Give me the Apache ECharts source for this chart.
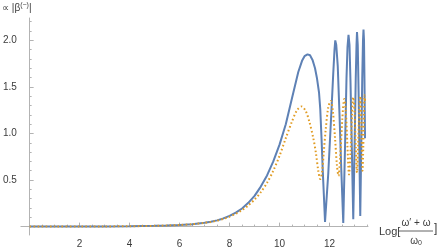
<!DOCTYPE html>
<html>
<head>
<meta charset="utf-8">
<script src="https://cdn.jsdelivr.net/npm/echarts@6/dist/echarts.min.js"></script>
<style>html,body{margin:0;padding:0;background:#fff}#c{width:440px;height:249px}</style>
</head>
<body>
<div id="c"></div>
<script>
// Blue (solid) series: [x, |beta|]
const blueData = [
  [0,0],[1,0.0005],[2,0.001],[3,0.002],[4,0.004],[4.5,0.006],[5,0.008],[5.5,0.012],[6,0.017],[6.5,0.026],[7,0.041],
  [7.25,0.052],[7.5,0.067],[7.75,0.088],[8,0.115],[8.25,0.15],[8.5,0.195],[8.75,0.255],[9,0.33],[9.25,0.43],
  [9.5,0.55],[9.75,0.7],[10,0.88],[10.25,1.1],[10.5,1.38],[10.75,1.66],[10.9,1.78],[11.0,1.83],[11.12,1.85],
  [11.22,1.84],[11.32,1.79],[11.42,1.7],[11.5,1.59],[11.58,1.44],[11.63,1.26],[11.68,0.95],[11.73,0.6],[11.78,0.3],[11.82,0.05],
  [11.95,0.57],[12.08,1.26],[12.15,1.65],[12.2,1.9],[12.23,2.0],[12.27,1.95],[12.33,1.72],[12.4,1.2],[12.47,0.62],[12.55,0.04],
  [12.62,0.85],[12.68,1.6],[12.72,1.93],[12.76,2.06],[12.8,1.95],[12.84,1.55],[12.9,0.75],[12.95,0.08],
  [13.0,0.8],[13.05,1.6],[13.08,1.95],[13.1,2.09],[13.13,1.95],[13.17,1.35],[13.2,0.7],[13.23,0.115],
  [13.27,0.85],[13.31,1.6],[13.34,2.0],[13.36,2.115],[13.38,2.0],[13.4,1.55],[13.42,0.95]
];
// Orange (dotted) series
const orangeData = [
  [0,0],[1,0.0005],[2,0.001],[3,0.002],[4,0.004],[4.5,0.006],[5,0.008],[5.5,0.012],[6,0.017],[6.5,0.026],[7,0.04],
  [7.25,0.05],[7.5,0.064],[7.75,0.083],[8,0.107],[8.25,0.138],[8.5,0.178],[8.75,0.228],[9,0.29],[9.25,0.37],
  [9.5,0.47],[9.75,0.6],[10,0.76],[10.25,0.95],[10.5,1.13],[10.7,1.25],[10.88,1.29],[11.05,1.24],[11.2,1.12],
  [11.35,0.95],[11.45,0.8],[11.55,0.6],[11.63,0.51],
  [11.7,0.58],[11.77,0.8],[11.85,1.05],[11.95,1.28],[12.05,1.35],[12.13,1.25],[12.22,0.95],[12.3,0.65],[12.36,0.545],
  [12.43,0.75],[12.51,1.15],[12.59,1.37],[12.65,1.25],[12.72,0.85],[12.78,0.56],[12.84,0.8],[12.9,1.2],[12.95,1.39],
  [13.0,1.25],[13.05,0.85],[13.1,0.58],[13.15,0.9],[13.19,1.25],[13.23,1.40],[13.27,1.15],[13.3,0.75],[13.32,0.6],
  [13.35,0.85],[13.38,1.2],[13.4,1.41],[13.42,1.35]
];
const xMajorTicks = [2,4,6,8,10,12];
const xMinorTicks = [0.5,1,1.5,2.5,3,3.5,4.5,5,5.5,6.5,7,7.5,8.5,9,9.5,10.5,11,11.5,12.5,13,13.5];
const yMajorTicks = [0.5,1.0,1.5,2.0];
const yMinorTicks = [0.1,0.2,0.3,0.4,0.6,0.7,0.8,0.9,1.1,1.2,1.3,1.4,1.6,1.7,1.8,1.9,2.1,2.2];

const axisColor = '#b3b3b3';
const labelColor = '#3c3c3c';
const font = "'Liberation Sans', Arial, sans-serif";

const chart = echarts.init(document.getElementById('c'), null, {renderer: 'canvas'});
const xBase = {type:'value', min:-0.35, max:13.54, splitLine:{show:false}, axisPointer:{show:false}};
const yBase = {type:'value', min:-0.09, max:2.24, splitLine:{show:false}};
chart.setOption({
  animation:false,
  grid:{left:7, right:72, top:18, bottom:8, containLabel:false},
  xAxis:[
    Object.assign({}, xBase, {
      position:'bottom',
      axisLine:{show:true, onZero:true, lineStyle:{color:axisColor, width:1}},
      axisTick:{show:true, inside:true, length:4, customValues:xMajorTicks, lineStyle:{color:axisColor}},
      axisLabel:{show:true, customValues:xMajorTicks, color:labelColor, fontSize:10, fontFamily:font, margin:4,
        formatter:v=>String(v)}
    }),
    Object.assign({}, xBase, {
      position:'bottom',
      axisLine:{show:false, onZero:true},
      axisTick:{show:true, inside:true, length:2, customValues:xMinorTicks, lineStyle:{color:axisColor}},
      axisLabel:{show:false}
    })
  ],
  yAxis:[
    Object.assign({}, yBase, {
      position:'left',
      axisLine:{show:true, onZero:true, lineStyle:{color:axisColor, width:1}},
      axisTick:{show:true, inside:true, length:4, customValues:yMajorTicks, lineStyle:{color:axisColor}},
      axisLabel:{show:true, customValues:yMajorTicks, color:labelColor, fontSize:10, fontFamily:font, margin:4,
        formatter:v=>v.toFixed(1)}
    }),
    Object.assign({}, yBase, {
      position:'left',
      axisLine:{show:false, onZero:true},
      axisTick:{show:true, inside:true, length:2, customValues:yMinorTicks, lineStyle:{color:axisColor}},
      axisLabel:{show:false}
    })
  ],
  series:[
    {type:'line', data:blueData, showSymbol:false, smooth:false, clip:false,
      lineStyle:{color:'#5E81B5', width:2}, z:2},
    {type:'line', data:orangeData, showSymbol:false, smooth:0.3, clip:false,
      lineStyle:{color:'#E19C24', width:2, type:[1.6,2.4], cap:'butt'}, z:3}
  ],
  graphic:[
    {type:'text', left:2, top:2, style:{
      text:'{a|∝ |β}{s|(−)}{a||}',
      rich:{a:{fontSize:10, fontFamily:font, fill:labelColor, fontStyle:'normal'},
            s:{fontSize:7, fontFamily:font, fill:labelColor, verticalAlign:'top', padding:[0,0,6,0]}},
      fill:labelColor}},
    {type:'text', x:379, y:232, style:{text:'Log[', fontSize:11, fontFamily:font, fill:labelColor, textVerticalAlign:'middle', textAlign:'left'}},
    {type:'text', x:416, y:223, style:{text:'ω′ + ω', fontSize:10, fontFamily:font, fill:labelColor, textVerticalAlign:'middle', textAlign:'center'}},
    {type:'line', shape:{x1:398, y1:231, x2:433, y2:231}, style:{stroke:labelColor, lineWidth:0.8}},
    {type:'text', x:416, y:241, style:{text:'{w|ω}{s|0}', rich:{w:{fontSize:10, fontFamily:font, fill:labelColor}, s:{fontSize:7, fontFamily:font, fill:labelColor, padding:[4,0,0,0]}}, textVerticalAlign:'middle', textAlign:'center'}},
    {type:'text', x:434, y:229, style:{text:']', fontSize:12, fontFamily:font, fill:labelColor, textVerticalAlign:'middle', textAlign:'left'}}
  ]
});
</script>
</body>
</html>
